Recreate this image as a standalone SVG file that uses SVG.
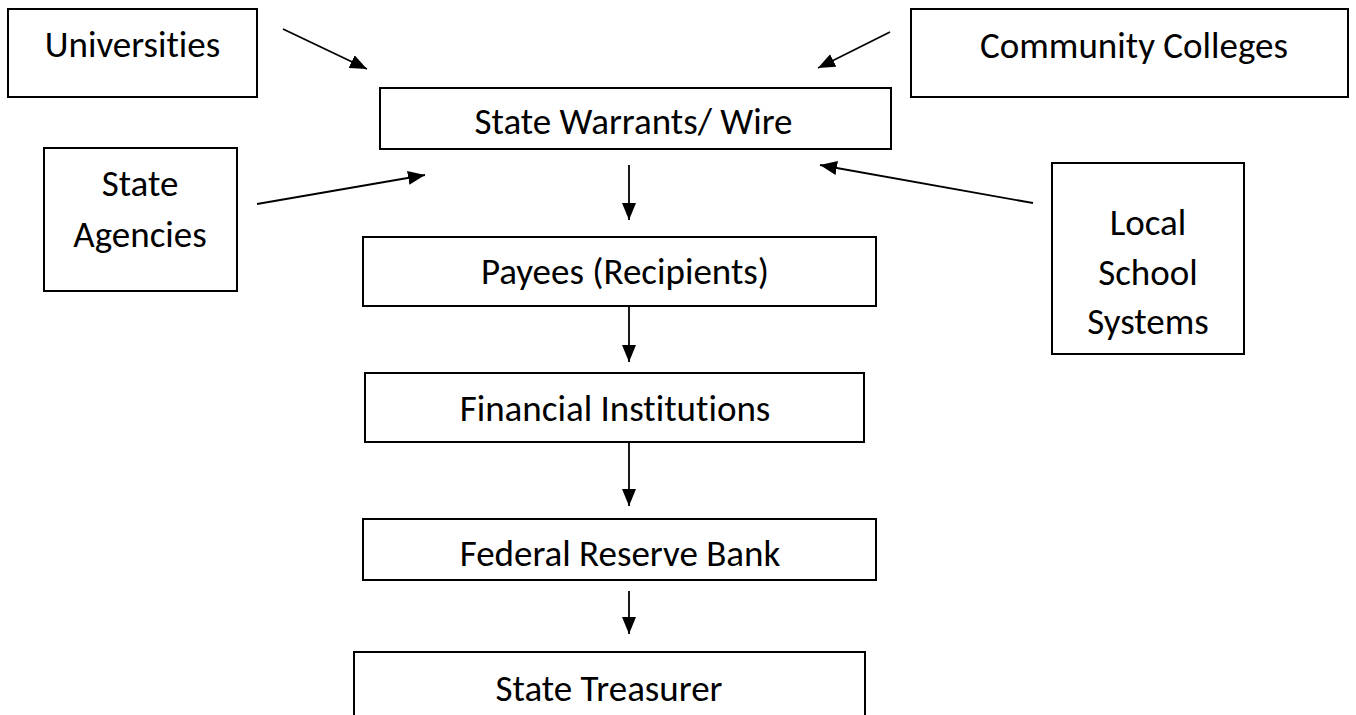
<svg xmlns="http://www.w3.org/2000/svg" width="1356" height="715" viewBox="0 0 1356 715">
<style>
.box{fill:#fff;stroke:#000;stroke-width:2}
.t{font-family:Carlito,Lato,"Liberation Sans",sans-serif;font-size:37px;fill:#000;text-anchor:middle;font-variant-ligatures:none;font-feature-settings:"liga" 0,"clig" 0}
.c{stroke:#000;stroke-width:1.8;fill:none;marker-end:url(#ah)}
</style>
<defs>
<marker id="ah" markerUnits="userSpaceOnUse" markerWidth="18" markerHeight="15" refX="17" refY="7" orient="auto" viewBox="0 0 18 14">
<path d="M0,0 L17,7 L0,14 z" fill="#000"/>
</marker>
</defs>
<rect width="1356" height="715" fill="#fff"/>
<g id="universities"><rect class="box" x="8" y="9" width="249" height="88"/><text class="t" x="132.5" y="57">Universities</text></g>
<g id="community-colleges"><rect class="box" x="911" y="9" width="437" height="88"/><text class="t" x="1134" y="58">Community Colleges</text></g>
<g id="state-warrants"><rect class="box" x="380" y="88" width="511" height="61"/><text class="t" x="633.5" y="134">State Warrants/ Wire</text></g>
<g id="state-agencies"><rect class="box" x="44" y="148" width="193" height="143"/><text class="t" x="140" y="196">State</text><text class="t" x="140" y="247">Agencies</text></g>
<g id="local-school-systems"><rect class="box" x="1052" y="163" width="192" height="191"/><text class="t" x="1148" y="235">Local</text><text class="t" x="1148" y="285">School</text><text class="t" x="1148" y="334">Systems</text></g>
<g id="payees"><rect class="box" x="363" y="237" width="513" height="69"/><text class="t" x="625" y="284">Payees (Recipients)</text></g>
<g id="financial-institutions"><rect class="box" x="365" y="373" width="499" height="69"/><text class="t" x="615" y="421">Financial Institutions</text></g>
<g id="federal-reserve"><rect class="box" x="363" y="519" width="513" height="61"/><text class="t" x="620" y="566">Federal Reserve Bank</text></g>
<g id="state-treasurer"><rect class="box" x="354" y="652" width="511" height="80"/><text class="t" x="609" y="701">State Treasurer</text></g>
<g id="connectors">
<line class="c" x1="283" y1="29" x2="367" y2="69"/>
<line class="c" x1="890" y1="32" x2="818" y2="68"/>
<line class="c" x1="257" y1="204" x2="425" y2="175"/>
<line class="c" x1="1033" y1="203" x2="820" y2="165"/>
<line class="c" x1="629" y1="165" x2="629" y2="220"/>
<line class="c" x1="629" y1="306" x2="629" y2="362"/>
<line class="c" x1="629" y1="442" x2="629" y2="506"/>
<line class="c" x1="629" y1="591" x2="629" y2="634"/>
</g>
</svg>
